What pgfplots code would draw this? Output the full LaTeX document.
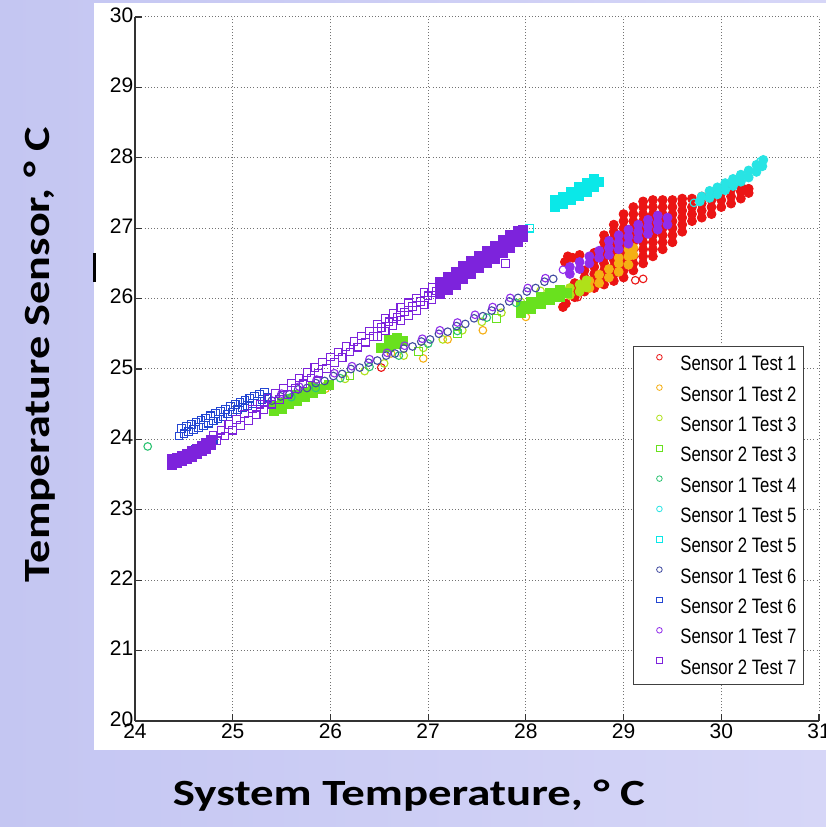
\documentclass[border=0pt]{standalone}
\usepackage{pgfplots}
\pgfplotsset{compat=1.18}
\usepackage{fontspec}
\usepackage{graphicx}
\setmainfont{Liberation Sans}
\newfontfamily\carlito{Carlito}

\definecolor{bgA}{RGB}{196,198,242}
\definecolor{bgB}{RGB}{214,214,247}
\definecolor{cA}{RGB}{235,20,20}
\definecolor{cB}{RGB}{245,175,20}
\definecolor{cC}{RGB}{175,225,25}
\definecolor{cD}{RGB}{105,225,30}
\definecolor{cE}{RGB}{45,195,115}
\definecolor{cF}{RGB}{40,228,228}
\definecolor{cG}{RGB}{10,232,232}
\definecolor{cH}{RGB}{65,75,160}
\definecolor{cI}{RGB}{35,70,210}
\definecolor{cJ}{RGB}{145,45,235}
\definecolor{cK}{RGB}{125,35,220}

\newcommand{\legtxt}[1]{\scalebox{1}[1.25]{#1}}

\pgfplotsset{
  hol/.style={only marks, mark size=3.8pt, mark options={line width=1.1pt, solid}},
  den/.style={only marks, forget plot, mark size=4.5pt, mark options={line width=0.8pt, solid}},
}

\begin{document}
\begin{tikzpicture}[x=1pt,y=1pt]
\useasboundingbox (-135,-106) rectangle (691,721);
\shade[left color=bgA, right color=bgB] (-135,-106) rectangle (691,721);
\fill[white] (-41,-29) rectangle (691,718);
\draw[black, line width=3pt] (-40,439) -- (-40,468);
\begin{axis}[
  at={(0,0)}, anchor=south west,
  scale only axis, width=684pt, height=704pt,
  xmin=24, xmax=31, ymin=20, ymax=30,
  xtick={24,...,31}, ytick={20,...,30},
  axis x line*=bottom, axis y line*=left,
  axis line style={-, line width=1.4pt, black!80},
  tick align=inside, major tick length=7pt,
  tick style={line width=1.2pt, black!80},
  grid=major,
  major grid style={line width=1pt, black!55, dash pattern=on 1pt off 2.2pt},
  tick label style={font=\fontsize{21}{21}\selectfont, inner sep=1.5pt},
  xticklabel style={yshift=-1pt},
  yticklabel style={yshift=2pt},
  /pgf/number format/assume math mode=true,
  legend cell align=left,
  legend style={at={(axis description cs:0.978,0.533)}, anchor=north east,
    draw=black!75, line width=1pt, fill=white,
    font=\fontsize{16.7}{16.7}\selectfont,
    inner xsep=6pt, inner ysep=8pt, row sep=11.3pt, column sep=0pt,
    nodes={inner sep=1pt}},
  legend image code/.code={\path[draw=none, fill=none] (0pt,0pt) (40pt,10pt);
    \draw[mark repeat=2, mark phase=2, #1] plot coordinates {(0pt,7pt) (20pt,7pt) (40pt,7pt)};},
  legend image post style={mark size=2.8pt, mark options={line width=0.8pt, solid}},
]
% Sensor 1 Test 1
\addplot[den, cA, mark=*] coordinates {
 (28.38,25.88)(28.41,25.93)(28.40,26.52)(28.48,26.58)(28.55,26.62)(28.43,26.60)
 (28.5,26.02)(28.5,26.12)(28.5,26.22)
 (28.6,26.10)(28.6,26.20)(28.6,26.30)(28.6,26.40)
 (28.7,26.15)(28.7,26.25)(28.7,26.35)(28.7,26.45)(28.7,26.55)(28.7,26.65)
 (28.8,26.20)(28.8,26.30)(28.8,26.40)(28.8,26.50)(28.8,26.60)(28.8,26.70)(28.8,26.80)(28.8,26.90)
 (28.9,26.25)(28.9,26.35)(28.9,26.45)(28.9,26.55)(28.9,26.65)(28.9,26.75)(28.9,26.85)(28.9,26.95)(28.9,27.05)
 (29.0,26.30)(29.0,26.40)(29.0,26.50)(29.0,26.60)(29.0,26.70)(29.0,26.80)(29.0,26.90)(29.0,27.00)(29.0,27.10)(29.0,27.20)
 (29.1,26.40)(29.1,26.50)(29.1,26.60)(29.1,26.70)(29.1,26.80)(29.1,26.90)(29.1,27.00)(29.1,27.10)(29.1,27.20)(29.1,27.30)
 (29.2,26.50)(29.2,26.60)(29.2,26.70)(29.2,26.80)(29.2,26.90)(29.2,27.00)(29.2,27.10)(29.2,27.20)(29.2,27.30)(29.2,27.38)
 (29.3,26.60)(29.3,26.70)(29.3,26.80)(29.3,26.90)(29.3,27.00)(29.3,27.10)(29.3,27.20)(29.3,27.30)(29.3,27.40)
 (29.4,26.70)(29.4,26.80)(29.4,26.90)(29.4,27.00)(29.4,27.10)(29.4,27.20)(29.4,27.30)(29.4,27.40)
 (29.5,26.80)(29.5,26.90)(29.5,27.00)(29.5,27.10)(29.5,27.20)(29.5,27.30)(29.5,27.40)
 (29.6,26.95)(29.6,27.05)(29.6,27.15)(29.6,27.25)(29.6,27.35)(29.6,27.42)
 (29.7,27.10)(29.7,27.20)(29.7,27.30)(29.7,27.42)
 (29.8,27.15)(29.8,27.25)(29.8,27.35)(29.8,27.45)
 (29.9,27.20)(29.9,27.30)(29.9,27.40)(29.9,27.50)
 (30.0,27.30)(30.0,27.40)(30.0,27.50)(30.0,27.56)
 (30.1,27.35)(30.1,27.45)(30.1,27.55)
 (30.2,27.42)(30.2,27.52)(30.2,27.60)
 (30.28,27.50)(30.28,27.56)
};
\addplot[hol, cA, mark=o] coordinates {
 (26.52,25.02)(28.53,26.02)(29.12,26.26)(29.20,26.28)
};
\addlegendentry{\legtxt{Sensor 1 Test 1}}
% Sensor 1 Test 2
\addplot[den, cB, mark=*] coordinates {
 (28.65,26.15)(28.65,26.25)(28.75,26.22)(28.75,26.34)(28.85,26.30)(28.85,26.42)
 (28.95,26.38)(28.95,26.50)(28.95,26.58)(29.05,26.48)(29.05,26.60)(29.05,26.70)
 (29.10,26.62)(29.10,26.72)
};
\addplot[hol, cB, mark=o] coordinates {
 (25.95,24.72)(26.62,25.22)(26.95,25.15)(27.20,25.42)(27.56,25.55)(28.00,25.74)(28.28,26.08)(28.32,26.10)
};
\addlegendentry{\legtxt{Sensor 1 Test 2}}
% Sensor 1 Test 3
\addplot[den, cC, mark=*] coordinates {
 (28.45,26.05)(28.45,26.15)(28.55,26.10)(28.55,26.20)(28.62,26.16)(28.62,26.26)
};
\addplot[hol, cC, mark=o] coordinates {
 (25.55,24.54)(25.75,24.65)(25.95,24.76)(26.15,24.86)(26.35,24.97)(26.55,25.08)(26.75,25.19)
 (26.95,25.30)(27.15,25.42)(27.35,25.55)(27.55,25.67)(27.75,25.80)(27.95,25.95)(28.15,26.11)
};
\addlegendentry{\legtxt{Sensor 1 Test 3}}
% Sensor 2 Test 3
\addplot[den, cD, mark=square*] coordinates {
 (25.42,24.40)(25.42,24.48)(25.50,24.44)(25.50,24.52)(25.58,24.50)(25.58,24.58)
 (25.66,24.55)(25.66,24.63)(25.74,24.60)(25.74,24.68)(25.82,24.66)(25.82,24.74)
 (25.90,24.72)(25.98,24.78)
 (26.52,25.30)(26.60,25.32)(26.60,25.42)(26.68,25.36)(26.68,25.44)(26.74,25.40)
 (27.95,25.80)(27.95,25.90)(28.05,25.85)(28.05,25.95)(28.15,25.92)(28.15,26.02)
 (28.25,25.98)(28.25,26.08)(28.35,26.03)(28.35,26.13)(28.42,26.08)
};
\addplot[hol, cD, mark=square] coordinates {
 (26.20,24.90)(26.90,25.25)(27.30,25.50)(27.70,25.72)
};
\addlegendentry{\legtxt{Sensor 2 Test 3}}
% Sensor 1 Test 4
\addplot[hol, cE, mark=o] coordinates {
 (24.13,23.90)(25.60,24.60)(25.85,24.73)(26.10,24.87)(26.40,25.03)(26.70,25.19)
 (27.00,25.36)(27.30,25.54)(27.60,25.73)(27.90,25.94)
};
\addlegendentry{\legtxt{Sensor 1 Test 4}}
% Sensor 1 Test 5
\addplot[den, cF, mark=*] coordinates {
 (29.78,27.38)(29.80,27.45)(29.88,27.43)(29.88,27.53)(29.96,27.48)(29.96,27.58)
 (30.04,27.54)(30.04,27.64)(30.12,27.60)(30.12,27.70)(30.20,27.66)(30.20,27.76)
 (30.28,27.72)(30.28,27.82)(30.36,27.80)(30.36,27.90)(30.42,27.88)(30.43,27.97)
};
\addplot[hol, cF, mark=o] coordinates {(29.72,27.36)(30.40,27.95)};
\addlegendentry{\legtxt{Sensor 1 Test 5}}
% Sensor 2 Test 5
\addplot[den, cG, mark=square*] coordinates {
 (28.30,27.30)(28.30,27.40)(28.38,27.35)(28.38,27.45)(28.46,27.40)(28.46,27.52)
 (28.54,27.46)(28.54,27.58)(28.62,27.52)(28.62,27.64)(28.70,27.58)(28.70,27.70)(28.75,27.66)
};
\addplot[hol, cG, mark=square] coordinates {(28.04,27.00)};
\addlegendentry{\legtxt{Sensor 2 Test 5}}
% Sensor 1 Test 6
\addplot[hol, cH, mark=o] coordinates {
 (25.40,24.55)(25.49,24.61)(25.58,24.64)(25.67,24.71)(25.76,24.73)(25.85,24.80)(25.94,24.83)
 (26.03,24.90)(26.12,24.93)(26.21,25.00)(26.30,25.02)(26.39,25.09)(26.48,25.12)(26.57,25.19)
 (26.66,25.22)(26.75,25.29)(26.84,25.32)(26.93,25.39)(27.02,25.42)(27.11,25.50)(27.20,25.53)
 (27.29,25.61)(27.38,25.64)(27.47,25.72)(27.56,25.75)(27.65,25.83)(27.74,25.87)(27.83,25.96)
 (27.92,26.01)(28.01,26.10)(28.10,26.15)(28.19,26.24)(28.28,26.28)
};
\addlegendentry{\legtxt{Sensor 1 Test 6}}
% Sensor 2 Test 6
\addplot[hol, cI, mark=square] coordinates {
 (24.45,24.05)(24.50,24.08)(24.55,24.11)(24.60,24.14)(24.65,24.17)(24.70,24.20)(24.75,24.23)
 (24.80,24.26)(24.85,24.29)(24.90,24.32)(24.95,24.36)(25.00,24.39)(25.05,24.42)(25.10,24.45)
 (25.15,24.48)(25.20,24.51)(25.25,24.54)(25.30,24.57)(25.35,24.60)
 (24.475,24.155)(24.525,24.185)(24.575,24.215)(24.625,24.245)(24.675,24.275)(24.725,24.305)
 (24.775,24.335)(24.825,24.365)(24.875,24.395)(24.925,24.425)(24.975,24.465)(25.025,24.495)
 (25.075,24.525)(25.125,24.555)(25.175,24.585)(25.225,24.615)(25.275,24.645)(25.325,24.675)
 (24.62,23.86)(24.68,23.90)(24.74,23.95)(24.80,23.98)
};
\addlegendentry{\legtxt{Sensor 2 Test 6}}
% Sensor 1 Test 7
\addplot[den, cJ, mark=*] coordinates {
 (28.45,26.35)(28.45,26.45)(28.55,26.42)(28.55,26.52)(28.65,26.50)(28.65,26.60)
 (28.75,26.58)(28.75,26.68)(28.85,26.62)(28.85,26.72)(28.85,26.82)
 (28.95,26.70)(28.95,26.80)(28.95,26.90)(29.05,26.78)(29.05,26.88)(29.05,26.98)
 (29.15,26.85)(29.15,26.95)(29.15,27.05)(29.25,26.92)(29.25,27.02)(29.25,27.12)
 (29.35,26.98)(29.35,27.08)(29.35,27.18)(29.45,27.05)(29.45,27.15)
};
\addplot[hol, cJ, mark=o] coordinates {
 (25.50,24.65)(25.68,24.75)(25.86,24.85)(26.04,24.94)(26.22,25.04)(26.40,25.14)(26.58,25.23)
 (26.76,25.33)(26.94,25.43)(27.12,25.55)(27.30,25.66)(27.48,25.77)(27.66,25.88)(27.84,26.01)
 (28.02,26.15)(28.20,26.29)(28.38,26.41)
};
\addlegendentry{\legtxt{Sensor 1 Test 7}}
% Sensor 2 Test 7
\addplot[den, cK, mark=square*] coordinates {
 (24.38,23.64)(24.38,23.72)(24.43,23.66)(24.43,23.74)(24.48,23.69)(24.48,23.77)
 (24.53,23.72)(24.53,23.80)(24.58,23.75)(24.58,23.83)(24.63,23.79)(24.63,23.87)
 (24.68,23.83)(24.68,23.91)(24.73,23.87)(24.73,23.95)(24.78,23.92)(24.78,23.99)
 (27.12,26.06)(27.12,26.15)(27.12,26.24)(27.20,26.13)(27.20,26.22)(27.20,26.31)
 (27.28,26.20)(27.28,26.29)(27.28,26.38)(27.36,26.28)(27.36,26.37)(27.36,26.46)
 (27.44,26.35)(27.44,26.44)(27.44,26.53)(27.52,26.43)(27.52,26.52)(27.52,26.61)
 (27.60,26.50)(27.60,26.59)(27.60,26.68)(27.68,26.57)(27.68,26.66)(27.68,26.75)
 (27.76,26.65)(27.76,26.74)(27.76,26.83)(27.84,26.72)(27.84,26.81)(27.84,26.90)
 (27.92,26.80)(27.92,26.89)(27.92,26.96)(27.97,26.88)(27.97,26.97)
};
\addplot[hol, cK, mark=square] coordinates {
 (24.80,24.06)(24.84,23.98)(24.88,24.13)(24.92,24.05)(24.96,24.21)(25.00,24.13)
 (25.04,24.28)(25.08,24.20)(25.12,24.36)(25.16,24.27)(25.20,24.43)(25.24,24.35)
 (25.28,24.50)(25.32,24.42)(25.36,24.58)(25.40,24.50)(25.44,24.65)(25.48,24.57)
 (25.52,24.73)(25.56,24.64)(25.60,24.80)(25.64,24.72)(25.68,24.87)(25.72,24.79)
 (25.76,24.95)(25.80,24.87)(25.84,25.02)(25.88,24.94)(25.92,25.10)(25.96,25.01)
 (26.00,25.17)(26.04,25.09)(26.08,25.24)(26.12,25.16)(26.16,25.32)(26.20,25.24)
 (26.24,25.39)(26.28,25.31)(26.32,25.47)(26.36,25.38)(26.40,25.54)(26.44,25.46)
 (26.48,25.46)(26.48,25.64)(26.52,25.59)(26.56,25.54)(26.56,25.72)(26.60,25.67)
 (26.64,25.61)(26.64,25.79)(26.68,25.74)(26.72,25.69)(26.72,25.87)(26.76,25.81)
 (26.80,25.76)(26.80,25.94)(26.84,25.89)(26.88,25.83)(26.88,26.01)(26.92,25.96)
 (26.96,25.91)(26.96,26.09)(27.00,26.04)(27.04,25.98)(27.04,26.16)(27.08,26.11)
 (27.79,26.50)
};
\addlegendentry{\legtxt{Sensor 2 Test 7}}
\end{axis}
\node[rotate=90, anchor=base] at (-85,366.5) {\resizebox{455pt}{\height}{\carlito\bfseries\fontsize{37}{37}\selectfont Temperature Sensor, ° C}};
\node[anchor=base] at (274,-84) {\resizebox{472pt}{\height}{\carlito\bfseries\fontsize{37}{37}\selectfont System Temperature, ° C}};
\end{tikzpicture}
\end{document}
